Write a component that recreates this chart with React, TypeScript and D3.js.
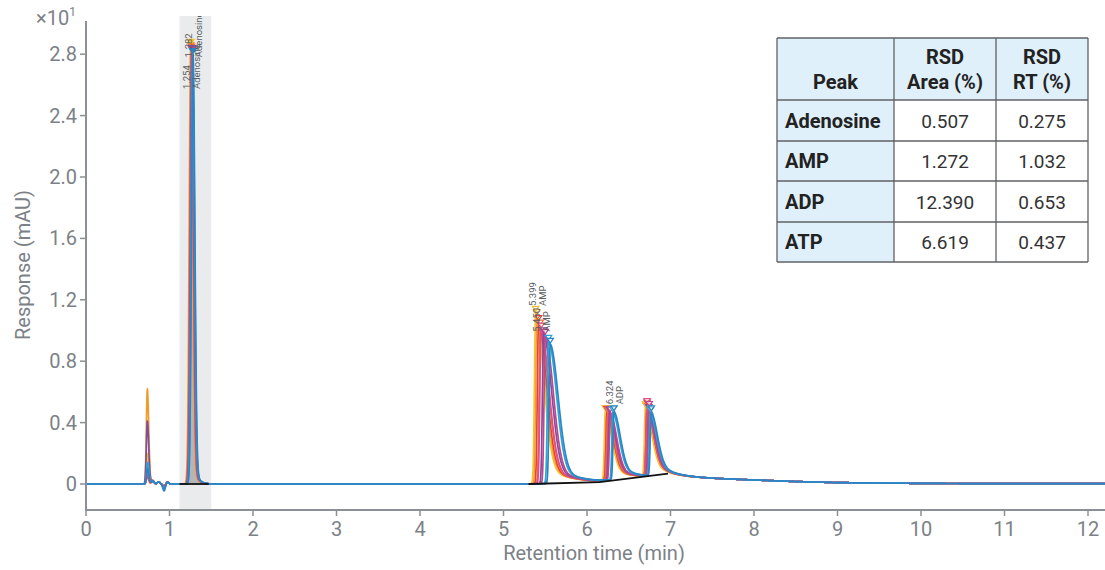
import React from "react";
import * as d3 from "d3";

// ---------- data ----------
const xTickValues = [0, 1, 2, 3, 4, 5, 6, 7, 8, 9, 10, 11, 12];
const yTickValues = [0, 0.4, 0.8, 1.2, 1.6, 2.0, 2.4, 2.8];
const yTickLabels = ["0", "0.4", "0.8", "1.2", "1.6", "2.0", "2.4", "2.8"];

// replicate injections (drawn in this order, last on top)
const traceColors = ["#f39a2b", "#f4c22f", "#e5403a", "#ef7240", "#e24d86", "#7f4f9f", "#c2458f", "#27a7d3", "#2a84c6"];

// void peak near 0.73 min
const earlyRT = [0.735, 0.737, 0.733, 0.736, 0.738, 0.735, 0.737, 0.739, 0.738];
const earlyHeight = [0.62, 0.2, 0.05, 0.08, 0.06, 0.41, 0.12, 0.14, 0.1];
// small disturbances after the void peak
const minorRT = [0.8, 0.87, 0.935, 0.975];
const minorHeight = [0.018, 0.014, -0.015, 0.012];
const dipExtra = [0.0, 0.0, -0.005, 0.0, 0.0, -0.005, 0.0, -0.018, -0.03];

const adenosineRT = [1.254, 1.258, 1.262, 1.265, 1.268, 1.271, 1.274, 1.278, 1.282];
const adenosineHeight = [2.84, 2.86, 2.82, 2.83, 2.81, 2.82, 2.81, 2.8, 2.8];
const ampRT = [5.399, 5.385, 5.42, 5.44, 5.45, 5.48, 5.5, 5.54, 5.56];
const ampHeight = [1.1, 1.12, 1.06, 1.03, 1.01, 0.98, 0.97, 0.93, 0.91];
const adpRT = [6.23, 6.22, 6.24, 6.25, 6.26, 6.27, 6.28, 6.31, 6.324];
const adpHeight = [0.45, 0.45, 0.445, 0.44, 0.445, 0.44, 0.44, 0.44, 0.445];
const atpRT = [6.71, 6.7, 6.72, 6.73, 6.72, 6.74, 6.745, 6.76, 6.77];
const atpHeight = [0.44, 0.45, 0.46, 0.44, 0.47, 0.43, 0.45, 0.41, 0.42];

// baseline drift of the signal
const driftT = [0, 5.3, 6.1, 6.6, 6.95, 7.3, 7.6, 8, 8.5, 9, 10, 11, 12.21];
const driftV = [0, 0, 0.008, 0.035, 0.045, 0.04, 0.034, 0.026, 0.016, 0.009, 0.004, 0.002, 0.002];

// integration baselines (black)
const baseAdenosineT = [1.12, 1.47];
const baseAdenosineV = [0, 0];
const baseNucleotideT = [5.3, 6.15, 6.97];
const baseNucleotideV = [0, 0.012, 0.068];

// highlighted window
const bandStart = 1.12;
const bandEnd = 1.5;

// peak annotations
const labelRT = ["1.254", "1.282", "5.399", "5.450", "6.324"];
const labelName = ["Adenosine", "Adenosine", "AMP", "AMP", "ADP"];
const labelPeakTime = [1.254, 1.282, 5.399, 5.45, 6.324];

// table
const tablePeaks = ["Adenosine", "AMP", "ADP", "ATP"];
const rsdArea = ["0.507", "1.272", "12.390", "6.619"];
const rsdRT = ["0.275", "1.032", "0.653", "0.437"];

// ---------- peak shapes (widths, min) ----------
type Shape = { sL: number; sR: number; w: number; tau: number };
const SHAPE: Record<string, Shape> = {
  early: { sL: 0.012, sR: 0.016, w: 0.1, tau: 0.03 },
  minor: { sL: 0.015, sR: 0.015, w: 0, tau: 1 },
  adenosine: { sL: 0.018, sR: 0.022, w: 0.08, tau: 0.04 },
  amp: { sL: 0.014, sR: 0.095, w: 0.14, tau: 0.28 },
  adp: { sL: 0.012, sR: 0.075, w: 0.25, tau: 0.2 },
  atp: { sL: 0.012, sR: 0.075, w: 0.3, tau: 0.18 },
};

function peak(t: number, rt: number, h: number, s: Shape) {
  const d = t - rt;
  if (d < 0) return h * Math.exp(-0.5 * (d / s.sL) ** 2);
  return h * ((1 - s.w) * Math.exp(-0.5 * (d / s.sR) ** 2) + s.w * Math.exp(-d / s.tau));
}

// label layout offsets (px, from the apex)
const labelLift = [-41, -3, 9, -3, 7];

const FONT = "Roboto, 'Noto Sans', Arial, sans-serif";
const AXIS_COLOR = "#8b9096";
const TEXT_GRAY = "#7c8187";

export default function App() {
  const plotLeft = 86, plotRight = 1105, plotTop = 16, plotBottom = 510;
  const x = d3.scaleLinear().domain([0, 12]).range([86, 1088]);
  const y = d3.scaleLinear().domain([0, 2.8]).range([484, 54.2]);

  const drift = d3.scaleLinear().domain(driftT).range(driftV).clamp(true);
  const times = d3.range(0, 12.21, 0.0025);

  const signal = (i: number, t: number) => {
    let v = drift(t);
    v += peak(t, earlyRT[i], earlyHeight[i], SHAPE.early);
    minorRT.forEach((rt, k) => {
      const h = minorHeight[k] + (k === 2 ? dipExtra[i] : 0);
      v += peak(t, rt, h, SHAPE.minor);
    });
    v += peak(t, adenosineRT[i], adenosineHeight[i], SHAPE.adenosine);
    v += peak(t, ampRT[i], ampHeight[i], SHAPE.amp);
    v += peak(t, adpRT[i], adpHeight[i], SHAPE.adp);
    v += peak(t, atpRT[i], atpHeight[i], SHAPE.atp);
    return v;
  };

  const traces = traceColors.map((_, i) => times.map((t) => [t, signal(i, t)] as [number, number]));

  const line = d3
    .line<[number, number]>()
    .x((d) => x(d[0]))
    .y((d) => y(d[1]));

  const last = traces.length - 1;
  const fillPts = traces[last].filter((d) => d[0] >= 1.13 && d[0] <= 1.46);
  const area = d3
    .area<[number, number]>()
    .x((d) => x(d[0]))
    .y0(y(0))
    .y1((d) => y(d[1]));

  const baseLine = (ts: number[], vs: number[]) =>
    line(ts.map((t, k) => [t, vs[k]] as [number, number])) || "";

  const tri = (cx: number, cy: number, s: number) =>
    `M${cx - s},${cy - s * 1.1}L${cx + s},${cy - s * 1.1}L${cx},${cy + s * 0.4}Z`;

  const markers: React.ReactNode[] = [];
  traceColors.forEach((c, i) => {
    const groups: [number[], number[], boolean][] = [
      [adenosineRT, adenosineHeight, true],
      [ampRT, ampHeight, false],
      [adpRT, adpHeight, false],
      [atpRT, atpHeight, false],
    ];
    groups.forEach(([rts, _hs, filled], g) => {
      const t = rts[i];
      const cx = x(t);
      const cy = y(signal(i, t)) - 2;
      markers.push(
        <path
          key={`m${i}-${g}`}
          d={tri(cx, cy, 3.2)}
          fill={filled ? c : "rgba(255,255,255,0.6)"}
          stroke={c}
          strokeWidth={1.2}
        />
      );
    });
  });

  // table geometry
  const tL = 777, tR = 1088, tT = 38, hdrB = 100;
  const colX = [tL, 894, 996, tR];
  const rowY = [hdrB, 141, 181, 222, 262];
  const headerBg = "#dff0fa";
  const border = "#5f6266";

  return (
    <svg
      width={1105}
      height={570}
      style={{ position: "absolute", left: 0, top: 0, background: "#fff" }}
      fontFamily={FONT}
    >
      <defs>
        <clipPath id="plotClip">
          <rect x={plotLeft} y={plotTop} width={plotRight - plotLeft} height={plotBottom - plotTop} />
        </clipPath>
      </defs>

      {/* highlight band */}
      <rect
        x={x(bandStart)}
        y={plotTop}
        width={x(bandEnd) - x(bandStart)}
        height={plotBottom - plotTop}
        fill="#e9ebed"
      />

      <g clipPath="url(#plotClip)">
        <path d={area(fillPts) || ""} fill="#b3b6b9" />
        {traces.map((tr, i) => (
          <path key={i} d={line(tr) || ""} fill="none" stroke={traceColors[i]} strokeWidth={1.7} strokeLinejoin="round" />
        ))}
        <path d={baseLine(baseAdenosineT, baseAdenosineV)} stroke="#111" strokeWidth={1.8} fill="none" />
        <path d={baseLine(baseNucleotideT, baseNucleotideV)} stroke="#111" strokeWidth={1.8} fill="none" />
        {markers}
        {labelRT.map((lab, k) => {
          const t = labelPeakTime[k];
          const cx = x(t);
          const idx = k === 0 ? 0 : k === 1 ? last : k === 2 ? 0 : k === 3 ? 4 : last;
          const apexY = y(signal(idx, t));
          const by = apexY - labelLift[k];
          return (
            <text
              key={`l${k}`}
              transform={`translate(${cx},${by}) rotate(-90)`}
              fontSize={9.5}
              fill="#5a5d61"
            >
              <tspan x={0} y={-1}>{lab}</tspan>
              <tspan x={0} y={9}>{labelName[k]}</tspan>
            </text>
          );
        })}
      </g>

      {/* axes */}
      <line x1={plotLeft} x2={plotLeft} y1={21} y2={plotBottom + 1} stroke={AXIS_COLOR} strokeWidth={2} />
      <line x1={plotLeft - 1} x2={plotRight} y1={plotBottom} y2={plotBottom} stroke={AXIS_COLOR} strokeWidth={2} />
      {yTickValues.map((v, k) => (
        <g key={`yt${k}`}>
          <line x1={plotLeft - 6} x2={plotLeft} y1={y(v)} y2={y(v)} stroke={AXIS_COLOR} strokeWidth={1.5} />
          <text x={plotLeft - 9} y={y(v) + 7} textAnchor="end" fontSize={20} fill={TEXT_GRAY}>
            {yTickLabels[k]}
          </text>
        </g>
      ))}
      {xTickValues.map((v) => (
        <g key={`xt${v}`}>
          <line x1={x(v)} x2={x(v)} y1={plotBottom} y2={plotBottom + 6} stroke={AXIS_COLOR} strokeWidth={1.5} />
          <text x={x(v)} y={plotBottom + 26} textAnchor="middle" fontSize={20} fill={TEXT_GRAY}>
            {v}
          </text>
        </g>
      ))}
      <text x={36} y={25} fontSize={20} fill={TEXT_GRAY}>
        ×10<tspan fontSize={12} dy={-9}>1</tspan>
      </text>
      <text transform="translate(30,265) rotate(-90)" textAnchor="middle" fontSize={20} fill={TEXT_GRAY}>
        Response (mAU)
      </text>
      <text x={594} y={560} textAnchor="middle" fontSize={20} fill={TEXT_GRAY}>
        Retention time (min)
      </text>

      {/* table */}
      <g>
        <rect x={tL} y={tT} width={tR - tL} height={hdrB - tT} fill={headerBg} />
        <rect x={tL} y={hdrB} width={colX[1] - tL} height={rowY[4] - hdrB} fill={headerBg} />
        <rect x={colX[1]} y={hdrB} width={tR - colX[1]} height={rowY[4] - hdrB} fill="#fff" />
        {[tT, ...rowY].map((yy, k) => (
          <line key={`hr${k}`} x1={tL} x2={tR} y1={yy} y2={yy} stroke={border} strokeWidth={1.3} />
        ))}
        {colX.map((xx, k) => (
          <line key={`vc${k}`} x1={xx} x2={xx} y1={tT} y2={rowY[4]} stroke={border} strokeWidth={1.3} />
        ))}
        <text x={(colX[0] + colX[1]) / 2} y={89} textAnchor="middle" fontSize={20} fontWeight={700} fill="#222">
          Peak
        </text>
        <text x={(colX[1] + colX[2]) / 2} y={64} textAnchor="middle" fontSize={20} fontWeight={700} fill="#222">
          RSD
        </text>
        <text x={(colX[1] + colX[2]) / 2} y={89} textAnchor="middle" fontSize={20} fontWeight={700} fill="#222">
          Area (%)
        </text>
        <text x={(colX[2] + colX[3]) / 2} y={64} textAnchor="middle" fontSize={20} fontWeight={700} fill="#222">
          RSD
        </text>
        <text x={(colX[2] + colX[3]) / 2} y={89} textAnchor="middle" fontSize={20} fontWeight={700} fill="#222">
          RT (%)
        </text>
        {tablePeaks.map((p, r) => {
          const cy = (rowY[r] + rowY[r + 1]) / 2 + 7;
          return (
            <g key={`row${r}`}>
              <text x={785} y={cy} fontSize={20} fontWeight={700} fill="#222">
                {p}
              </text>
              <text x={(colX[1] + colX[2]) / 2} y={cy} textAnchor="middle" fontSize={19} fill="#333">
                {rsdArea[r]}
              </text>
              <text x={(colX[2] + colX[3]) / 2} y={cy} textAnchor="middle" fontSize={19} fill="#333">
                {rsdRT[r]}
              </text>
            </g>
          );
        })}
      </g>
    </svg>
  );
}
